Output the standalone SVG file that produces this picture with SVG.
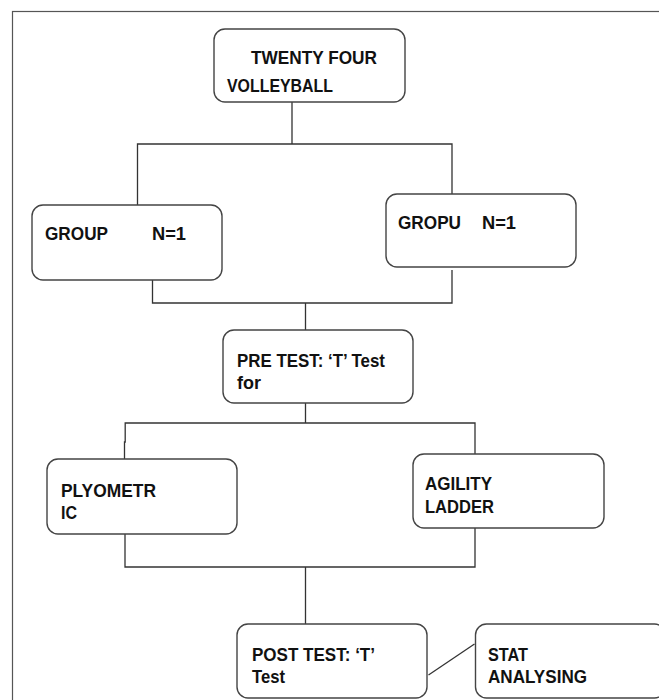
<svg xmlns="http://www.w3.org/2000/svg" width="659" height="700" viewBox="0 0 659 700">
<style>
.box{fill:#fff;stroke:#444;stroke-width:1.4}
.t{font-family:"Liberation Sans",Arial,sans-serif;font-weight:bold;font-size:18.5px;fill:#111}
.c{fill:none;stroke:#333;stroke-width:1.3}
</style>
<rect x="0" y="0" width="659" height="700" fill="#fff"/>
<rect x="12.5" y="11.5" width="660" height="700" fill="none" stroke="#555" stroke-width="1.2"/>
<g id="connectors">
<path class="c" d="M292 102V144M137.5 205V144H452V194"/>
<path class="c" d="M152.5 280V303H452V270M305.5 303V330"/>
<path class="c" d="M305.5 403V423M124.5 459V442H125.2V423H475V454"/>
<path class="c" d="M125 534V567H475V528M305.5 567V624"/>
<path class="c" d="M428.5 675L474.5 644"/>
</g>
<g id="n1"><rect class="box" x="214" y="29" width="191" height="73" rx="11"/>
<text class="t" x="251" y="64" textLength="126" lengthAdjust="spacingAndGlyphs">TWENTY FOUR</text><text class="t" x="227" y="92" textLength="106" lengthAdjust="spacingAndGlyphs">VOLLEYBALL</text></g>
<g id="n2"><rect class="box" x="32" y="205" width="190" height="75" rx="11"/>
<text class="t" x="45" y="240" textLength="63" lengthAdjust="spacingAndGlyphs">GROUP</text><text class="t" x="152" y="240" textLength="34" lengthAdjust="spacingAndGlyphs">N=1</text></g>
<g id="n3"><rect class="box" x="386" y="194" width="190" height="73" rx="11"/>
<text class="t" x="398" y="229" textLength="63" lengthAdjust="spacingAndGlyphs">GROPU</text><text class="t" x="482" y="229" textLength="34" lengthAdjust="spacingAndGlyphs">N=1</text></g>
<g id="n4"><rect class="box" x="223" y="330" width="190" height="73" rx="11"/>
<text class="t" x="237" y="367" textLength="148" lengthAdjust="spacingAndGlyphs">PRE TEST: ‘T’ Test</text><text class="t" x="237" y="389" textLength="24" lengthAdjust="spacingAndGlyphs">for</text></g>
<g id="n5"><rect class="box" x="47" y="459" width="190" height="75" rx="11"/>
<text class="t" x="61" y="497" textLength="95" lengthAdjust="spacingAndGlyphs">PLYOMETR</text><text class="t" x="61" y="519" textLength="16" lengthAdjust="spacingAndGlyphs">IC</text></g>
<g id="n6"><rect class="box" x="413" y="454" width="191" height="74" rx="11"/>
<text class="t" x="425" y="490" textLength="67" lengthAdjust="spacingAndGlyphs">AGILITY</text><text class="t" x="425" y="513" textLength="69" lengthAdjust="spacingAndGlyphs">LADDER</text></g>
<g id="n7"><rect class="box" x="237" y="624" width="190" height="74" rx="11"/>
<text class="t" x="252" y="661" textLength="123" lengthAdjust="spacingAndGlyphs">POST TEST: ‘T’</text><text class="t" x="252" y="683" textLength="33" lengthAdjust="spacingAndGlyphs">Test</text></g>
<g id="n8"><rect class="box" x="475.5" y="624" width="190" height="74" rx="11"/>
<text class="t" x="488" y="661" textLength="40" lengthAdjust="spacingAndGlyphs">STAT</text><text class="t" x="488" y="683" textLength="99" lengthAdjust="spacingAndGlyphs">ANALYSING</text></g>
</svg>
